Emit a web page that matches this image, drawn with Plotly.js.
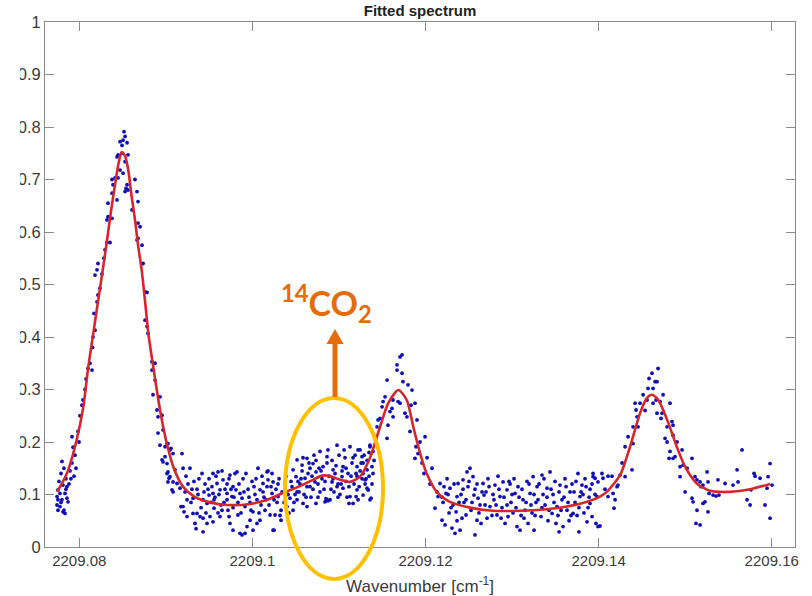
<!DOCTYPE html>
<html>
<head>
<meta charset="utf-8">
<script src="https://cdn.plot.ly/plotly-3.0.1.min.js"></script>
<style>
  html, body { margin: 0; padding: 0; background: #ffffff; }
  #chart { width: 812px; height: 596px; }
</style>
</head>
<body>
<div id="chart"></div>
<script>
// ---- Data ----
// Fitted model curve (wavenumber in cm^-1, signal in arbitrary units)
const fitWavenumber = [2209.07743, 2209.07758, 2209.07812, 2209.07873, 2209.07970, 2209.08047, 2209.08104, 2209.08162, 2209.08205, 2209.08251,
  2209.08317, 2209.08367, 2209.08413, 2209.08453, 2209.08490, 2209.08528, 2209.08566, 2209.08603, 2209.08644, 2209.08679,
  2209.08721, 2209.08759, 2209.08798, 2209.08855, 2209.08933, 2209.09010, 2209.09086, 2209.09198, 2209.09337, 2209.09510,
  2209.09707, 2209.09973, 2209.10169, 2209.10354, 2209.10550, 2209.10689, 2209.10804, 2209.10897, 2209.11012, 2209.11128,
  2209.11244, 2209.11359, 2209.11475, 2209.11570, 2209.11686, 2209.11783, 2209.11859, 2209.11937, 2209.12014, 2209.12130,
  2209.12283, 2209.12514, 2209.12780, 2209.13092, 2209.13404, 2209.13635, 2209.13866, 2209.14016, 2209.14094, 2209.14248,
  2209.14363, 2209.14479, 2209.14556, 2209.14614, 2209.14675, 2209.14710, 2209.14806, 2209.14903, 2209.14999, 2209.15134,
  2209.15287, 2209.15518, 2209.15750, 2209.15981];
const fitSignal = [0.105, 0.109, 0.125, 0.147, 0.204, 0.267, 0.343, 0.407, 0.455, 0.505,
  0.580, 0.640, 0.690, 0.730, 0.752, 0.745, 0.718, 0.670, 0.623, 0.575,
  0.528, 0.470, 0.407, 0.343, 0.261, 0.198, 0.153, 0.115, 0.095, 0.085,
  0.080, 0.082, 0.090, 0.103, 0.116, 0.127, 0.136, 0.135, 0.128, 0.124,
  0.134, 0.170, 0.229, 0.274, 0.299, 0.280, 0.229, 0.179, 0.140, 0.105,
  0.086, 0.075, 0.069, 0.069, 0.072, 0.077, 0.086, 0.096, 0.105, 0.137,
  0.191, 0.255, 0.283, 0.290, 0.283, 0.274, 0.236, 0.191, 0.153, 0.121,
  0.107, 0.105, 0.110, 0.120];

// Measured points [wavenumber, signal]
const measuredPoints = [
  [2209.07743,0.096],[2209.07743,0.080],[2209.07754,0.090],[2209.07754,0.109],[2209.07777,0.102],[2209.07777,0.077],[2209.07800,0.090],[2209.07800,0.163],[2209.07812,0.067],[2209.07812,0.118],
  [2209.07835,0.064],[2209.07835,0.102],[2209.07858,0.093],[2209.07858,0.115],[2209.07870,0.086],[2209.07789,0.140],[2209.07823,0.150],[2209.07846,0.130],[2209.07893,0.145],[2209.07916,0.160],
  [2209.07939,0.135],[2209.07962,0.150],[2209.07916,0.210],[2209.07928,0.190],[2209.07951,0.175],[2209.07985,0.220],[2209.08008,0.250],[2209.07997,0.200],[2209.08031,0.270],[2209.08043,0.280],
  [2209.08066,0.300],[2209.08078,0.320],[2209.08101,0.340],[2209.08124,0.350],[2209.08147,0.337],[2209.08153,0.380],[2209.08159,0.400],[2209.08182,0.413],[2209.08170,0.445],[2209.08205,0.467],
  [2209.08216,0.480],[2209.08239,0.493],[2209.08182,0.518],[2209.08205,0.528],[2209.08216,0.540],[2209.08262,0.520],[2209.08285,0.550],[2209.08297,0.566],[2209.08320,0.580],[2209.08355,0.580],
  [2209.08320,0.623],[2209.08332,0.629],[2209.08378,0.626],[2209.08332,0.655],[2209.08436,0.661],[2209.08378,0.674],[2209.08390,0.690],[2209.08378,0.700],[2209.08413,0.703],[2209.08448,0.703],
  [2209.08471,0.718],[2209.08506,0.712],[2209.08552,0.690],[2209.08563,0.680],[2209.08494,0.750],[2209.08471,0.772],[2209.08506,0.775],[2209.08529,0.782],[2209.08517,0.791],[2209.08494,0.765],
  [2209.08552,0.770],[2209.08563,0.747],[2209.08448,0.747],[2209.08436,0.743],[2209.08529,0.734],[2209.08540,0.683],[2209.08529,0.677],[2209.08644,0.700],[2209.08667,0.677],[2209.08679,0.658],
  [2209.08609,0.642],[2209.08679,0.617],[2209.08702,0.610],[2209.08679,0.588],[2209.08667,0.585],[2209.08725,0.575],[2209.08737,0.540],[2209.08760,0.486],[2209.08783,0.485],[2209.08760,0.432],
  [2209.08783,0.420],[2209.08794,0.407],[2209.08840,0.353],[2209.08875,0.350],[2209.08840,0.337],[2209.08875,0.318],[2209.08852,0.290],[2209.08933,0.286],[2209.08898,0.261],[2209.08910,0.248],
  [2209.08956,0.251],[2209.08968,0.223],[2209.08933,0.194],[2209.08991,0.191],[2209.09025,0.197],[2209.08956,0.166],[2209.09014,0.159],[2209.09048,0.185],[2209.09014,0.140],[2209.09048,0.134],
  [2209.09025,0.124],[2209.09083,0.124],[2209.09083,0.105],
  [2209.07766,0.125],[2209.07789,0.085],[2209.07823,0.070],[2209.07846,0.110],[2209.07881,0.120],[2209.07904,0.130],[2209.07754,0.070],
  [2209.08910,0.217],[2209.09014,0.197],[2209.09060,0.188],[2209.08991,0.172],[2209.09083,0.178],[2209.09187,0.178],[2209.08968,0.162],[2209.09025,0.143],[2209.09106,0.147],[2209.09199,0.150],
  [2209.09279,0.150],[2209.09037,0.131],[2209.09129,0.121],[2209.09164,0.112],[2209.09222,0.105],[2209.09071,0.109],[2209.09199,0.077],[2209.09245,0.090],[2209.09314,0.093],[2209.09360,0.064],
  [2209.09430,0.055],[2209.09337,0.045],[2209.09430,0.029],[2209.09510,0.058],[2209.09545,0.140],[2209.09603,0.143],[2209.09591,0.121],[2209.09661,0.128],[2209.09741,0.137],[2209.09822,0.143],
  [2209.09626,0.109],[2209.09707,0.102],[2209.09499,0.099],[2209.09476,0.083],[2209.09557,0.074],[2209.09649,0.070],[2209.09764,0.096],[2209.09810,0.109],[2209.09880,0.093],[2209.09915,0.077],
  [2209.09730,0.058],[2209.09833,0.061],[2209.09973,0.051],[2209.09880,0.023],[2209.09915,0.026],[2209.09938,0.039],[2209.10007,0.067],[2209.10053,0.090],[2209.10088,0.109],[2209.10123,0.121],
  [2209.10065,0.150],[2209.10169,0.143],[2209.10181,0.128],[2209.10239,0.124],[2209.10227,0.102],[2209.10296,0.096],[2209.10146,0.070],[2209.10204,0.061],[2209.10262,0.061],[2209.10331,0.051],
  [2209.10250,0.032],[2209.10400,0.077],[2209.10435,0.093],[2209.10377,0.121],[2209.10470,0.147],
  [2209.09175,0.077],[2209.09210,0.067],[2209.09245,0.058],[2209.09314,0.064],[2209.09395,0.058],[2209.09476,0.045],[2209.09545,0.048],[2209.09626,0.058],[2209.09741,0.045],[2209.09776,0.032],
  [2209.09857,0.026],[2209.09430,0.090],[2209.09545,0.102],[2209.09707,0.090],[2209.09857,0.102],[2209.09776,0.115],
  [2209.09256,0.120],[2209.09302,0.110],[2209.09372,0.100],[2209.09383,0.130],[2209.09453,0.120],[2209.09487,0.110],[2209.09522,0.085],[2209.09568,0.095],[2209.09603,0.065],[2209.09672,0.085],
  [2209.09707,0.120],[2209.09776,0.075],[2209.09833,0.085],[2209.09892,0.130],[2209.09950,0.110],[2209.09973,0.085],[2209.09996,0.125],[2209.10030,0.100],[2209.10053,0.045],[2209.10100,0.080],
  [2209.10111,0.135],[2209.10134,0.095],[2209.10169,0.115],[2209.10192,0.080],[2209.10227,0.140],[2209.10273,0.110],[2209.10285,0.085],[2209.10308,0.130],[2209.10331,0.070],[2209.10343,0.105],
  [2209.10412,0.100],[2209.10423,0.065],[2209.10458,0.115],[2209.10481,0.085],[2209.10516,0.105],[2209.10527,0.125],[2209.09349,0.035],[2209.10007,0.032],[2209.10088,0.051],[2209.10239,0.032],
  [2209.09233,0.135],[2209.09291,0.085],[2209.09325,0.125],[2209.09360,0.110],[2209.09407,0.075],[2209.09418,0.140],[2209.09441,0.105],[2209.09464,0.065],[2209.09499,0.130],[2209.09533,0.115],
  [2209.09557,0.090],[2209.09580,0.135],[2209.09614,0.100],[2209.09637,0.080],[2209.09649,0.145],[2209.09684,0.110],[2209.09718,0.070],[2209.09730,0.130],[2209.09753,0.110],[2209.09787,0.095],
  [2209.09799,0.140],[2209.09845,0.120],[2209.09868,0.065],[2209.09903,0.105],[2209.09926,0.140],[2209.09961,0.095],[2209.09984,0.070],[2209.10019,0.115],[2209.10042,0.130],[2209.10077,0.065],
  [2209.10123,0.105],[2209.10157,0.090],[2209.10181,0.145],[2209.10215,0.115],[2209.10250,0.090],[2209.10296,0.120],[2209.10319,0.060],[2209.10366,0.085],[2209.10389,0.135],[2209.10446,0.125],
  [2209.10470,0.070],[2209.10493,0.100],
  [2209.10516,0.166],[2209.10574,0.156],[2209.10631,0.169],[2209.10700,0.159],[2209.10781,0.182],[2209.10862,0.172],[2209.10978,0.194],[2209.11128,0.191],[2209.11221,0.185],[2209.11359,0.194],
  [2209.10504,0.134],[2209.10608,0.131],[2209.10666,0.115],[2209.10723,0.124],[2209.10781,0.105],[2209.10862,0.090],[2209.10897,0.090],[2209.10978,0.115],[2209.11047,0.112],[2209.11128,0.096],
  [2209.11209,0.109],[2209.11279,0.099],[2209.11359,0.090],[2209.11337,0.109],[2209.11163,0.083],[2209.10631,0.077],[2209.10516,0.090],[2209.10816,0.153],[2209.10932,0.147],[2209.11047,0.153],
  [2209.11209,0.153],[2209.11325,0.147],[2209.11036,0.134],[2209.10920,0.124],[2209.10735,0.143],[2209.10585,0.083],[2209.10735,0.083],[2209.10850,0.092],[2209.10873,0.088],[2209.10839,0.086],
  [2209.11116,0.083],[2209.11198,0.096],
  [2209.10550,0.120],[2209.10574,0.145],[2209.10597,0.100],[2209.10643,0.140],[2209.10654,0.160],[2209.10677,0.095],[2209.10689,0.135],[2209.10712,0.175],[2209.10758,0.120],[2209.10770,0.150],
  [2209.10804,0.130],[2209.10827,0.110],[2209.10862,0.160],[2209.10885,0.135],[2209.10920,0.165],[2209.10943,0.105],[2209.10955,0.140],[2209.10989,0.120],[2209.11001,0.175],[2209.11012,0.100],
  [2209.11036,0.145],[2209.11070,0.170],[2209.11082,0.125],[2209.11093,0.095],[2209.11105,0.140],[2209.11151,0.160],[2209.11175,0.120],[2209.11186,0.175],[2209.11209,0.135],[2209.11233,0.115],
  [2209.11256,0.160],[2209.11267,0.130],[2209.11291,0.175],[2209.11302,0.120],[2209.11325,0.165],[2209.11348,0.135],[2209.11382,0.120],[2209.11406,0.165],[2209.10539,0.105],[2209.10631,0.115],
  [2209.10562,0.130],[2209.10585,0.170],[2209.10620,0.095],[2209.10666,0.150],[2209.10700,0.110],[2209.10735,0.165],[2209.10758,0.095],[2209.10793,0.145],[2209.10839,0.125],[2209.10873,0.185],
  [2209.10908,0.110],[2209.10932,0.130],[2209.10966,0.155],[2209.10989,0.095],[2209.11024,0.120],[2209.11059,0.185],[2209.11082,0.150],[2209.11116,0.115],[2209.11140,0.135],[2209.11163,0.170],
  [2209.11198,0.140],[2209.11221,0.090],[2209.11244,0.145],[2209.11279,0.160],[2209.11314,0.130],[2209.11348,0.180],
  [2209.11244,0.185],[2209.11267,0.172],[2209.11279,0.140],[2209.11302,0.128],[2209.11325,0.112],[2209.11337,0.109],[2209.11371,0.093],[2209.11359,0.191],[2209.11382,0.153],[2209.11394,0.140],
  [2209.11394,0.182],[2209.11417,0.210],[2209.11440,0.229],[2209.11452,0.242],[2209.11475,0.245],[2209.11498,0.267],[2209.11510,0.277],[2209.11533,0.286],[2209.11556,0.207],[2209.11567,0.232],
  [2209.11556,0.318],[2209.11590,0.258],[2209.11613,0.264],[2209.11625,0.248],[2209.11625,0.280],[2209.11671,0.337],[2209.11671,0.347],[2209.11706,0.362],[2209.11729,0.366],[2209.11729,0.331],
  [2209.11683,0.277],[2209.11706,0.274],[2209.11740,0.315],[2209.11798,0.309],[2209.11844,0.299],[2209.11763,0.255],[2209.11786,0.248],[2209.11879,0.274],[2209.11902,0.242],[2209.11995,0.210],
  [2209.11890,0.191],[2209.11913,0.178],[2209.11879,0.169],[2209.11983,0.140],[2209.12133,0.105],[2209.12168,0.121],[2209.12145,0.096],[2209.12110,0.074],[2209.12191,0.051],[2209.12226,0.042],
  [2209.12306,0.036],[2209.12341,0.026],[2209.12399,0.032],[2209.12237,0.102],[2209.12283,0.112],[2209.12364,0.096],[2209.12376,0.121],[2209.12434,0.128],[2209.12480,0.143],[2209.12514,0.150],
  [2209.12549,0.134],[2209.12491,0.115],[2209.12560,0.099],[2209.12607,0.093],[2209.12353,0.067],[2209.12468,0.061],[2209.12595,0.051],[2209.12572,0.023],[2209.12665,0.121],[2209.12676,0.099],
  [2209.12745,0.077],[2209.12803,0.118],[2209.12826,0.061],[2209.12861,0.096],[2209.12896,0.124],[2209.12942,0.109],[2209.12954,0.058],[2209.13034,0.102],[2209.13057,0.039],[2209.13127,0.090],
  [2209.13150,0.070],[2209.13208,0.102],[2209.13243,0.134],[2209.13289,0.115],[2209.13346,0.137],[2209.13404,0.112],[2209.13335,0.058],[2209.13439,0.143],[2209.13462,0.064],[2209.13520,0.077],
  [2209.13554,0.118],[2209.13589,0.039],[2209.13670,0.105],[2209.13705,0.064],[2209.13762,0.140],[2209.13808,0.118],[2209.13785,0.096],[2209.13866,0.048],[2209.13936,0.134],[2209.13982,0.096],
  [2209.13993,0.039],[2209.13254,0.032],[2209.13092,0.032],[2209.13543,0.029],[2209.13773,0.029],
  [2209.12203,0.085],[2209.12249,0.130],[2209.12272,0.065],[2209.12318,0.080],[2209.12411,0.100],[2209.12422,0.055],[2209.12445,0.085],[2209.12526,0.070],[2209.12595,0.120],[2209.12630,0.080],
  [2209.12642,0.045],[2209.12699,0.105],[2209.12722,0.130],[2209.12768,0.060],[2209.12791,0.090],[2209.12838,0.135],[2209.12884,0.075],[2209.12919,0.045],[2209.12965,0.125],[2209.12988,0.085],
  [2209.13011,0.065],[2209.13069,0.115],[2209.13104,0.060],[2209.13173,0.125],[2209.13185,0.045],[2209.13219,0.080],[2209.13266,0.060],[2209.13300,0.090],[2209.13358,0.100],[2209.13381,0.080],
  [2209.13416,0.050],[2209.13474,0.100],[2209.13497,0.125],[2209.13531,0.060],[2209.13577,0.090],[2209.13612,0.130],[2209.13635,0.070],[2209.13658,0.050],[2209.13693,0.120],[2209.13728,0.085],
  [2209.13751,0.060],[2209.13820,0.100],[2209.13843,0.130],[2209.13878,0.075],[2209.13901,0.110],[2209.12018,0.170],[2209.12052,0.120],[2209.12075,0.150],[2209.11937,0.200],[2209.11960,0.160],
  [2209.11833,0.270],[2209.11821,0.220],
  [2209.12191,0.095],[2209.12214,0.115],[2209.12260,0.100],[2209.12295,0.075],[2209.12330,0.120],[2209.12364,0.050],[2209.12388,0.085],[2209.12434,0.110],[2209.12468,0.090],[2209.12503,0.125],
  [2209.12537,0.085],[2209.12572,0.110],[2209.12618,0.065],[2209.12653,0.105],[2209.12688,0.080],[2209.12711,0.055],[2209.12734,0.115],[2209.12780,0.100],[2209.12815,0.080],[2209.12849,0.110],
  [2209.12873,0.055],[2209.12907,0.095],[2209.12942,0.080],[2209.12977,0.120],[2209.13000,0.100],[2209.13023,0.130],[2209.13046,0.075],[2209.13081,0.095],[2209.13115,0.110],[2209.13138,0.055],
  [2209.13162,0.085],[2209.13196,0.120],[2209.13231,0.065],[2209.13254,0.100],[2209.13277,0.085],[2209.13312,0.120],[2209.13346,0.075],[2209.13369,0.130],[2209.13404,0.095],[2209.13427,0.070],
  [2209.13450,0.110],[2209.13485,0.085],[2209.13508,0.045],[2209.13543,0.105],[2209.13566,0.070],[2209.13600,0.095],[2209.13624,0.115],[2209.13647,0.085],[2209.13681,0.060],[2209.13716,0.105],
  [2209.13739,0.125],[2209.13773,0.075],[2209.13797,0.105],[2209.13831,0.065],[2209.13855,0.115],[2209.13890,0.095],[2209.13924,0.120],[2209.13959,0.100],
  [2209.13924,0.058],[2209.13970,0.045],[2209.14016,0.040],[2209.13901,0.083],[2209.13936,0.140],[2209.13959,0.131],[2209.13993,0.124],[2209.14039,0.140],[2209.14051,0.131],[2209.14109,0.135],
  [2209.14155,0.135],[2209.14109,0.096],[2209.14167,0.102],[2209.14213,0.115],[2209.14224,0.118],[2209.14190,0.090],[2209.14178,0.074],[2209.14248,0.137],[2209.14306,0.134],[2209.14306,0.191],
  [2209.14386,0.147],[2209.14398,0.197],[2209.14398,0.229],[2209.14456,0.229],[2209.14444,0.248],[2209.14433,0.261],[2209.14421,0.274],[2209.14479,0.274],[2209.14560,0.280],[2209.14571,0.302],
  [2209.14583,0.321],[2209.14617,0.331],[2209.14652,0.315],[2209.14675,0.315],[2209.14687,0.340],[2209.14629,0.302],[2209.14629,0.274],[2209.14664,0.280],[2209.14710,0.277],[2209.14745,0.290],
  [2209.14825,0.274],[2209.14675,0.255],[2209.14721,0.245],[2209.14791,0.229],[2209.14848,0.239],[2209.14860,0.232],[2209.14860,0.213],[2209.14768,0.207],[2209.14791,0.200],[2209.14825,0.182],
  [2209.14814,0.169],[2209.14860,0.169],[2209.14883,0.172],[2209.14964,0.185],[2209.14941,0.153],[2209.14976,0.156],[2209.15022,0.150],[2209.14941,0.134],[2209.15079,0.169],[2209.15114,0.134],
  [2209.15137,0.128],[2209.15172,0.124],[2209.15183,0.115],[2209.15206,0.118],[2209.15253,0.143],[2209.15264,0.124],[2209.14999,0.105],[2209.15079,0.093],[2209.15091,0.086],[2209.15137,0.070],
  [2209.15125,0.045],[2209.15172,0.042],[2209.15206,0.083],[2209.15229,0.086],[2209.15264,0.067],[2209.15276,0.102],[2209.15322,0.099],[2209.15356,0.097],[2209.15391,0.099],[2209.15379,0.128],
  [2209.15461,0.121],[2209.15553,0.118],[2209.15600,0.147],[2209.15611,0.124],[2209.15657,0.185],[2209.15715,0.090],[2209.15750,0.080],[2209.15761,0.109],[2209.15796,0.140],[2209.15808,0.135],
  [2209.15865,0.131],[2209.15923,0.080],[2209.15958,0.134],[2209.15981,0.159],[2209.15946,0.112],[2209.15981,0.055],[2209.16004,0.118],
  [2209.14074,0.110],[2209.14271,0.160],[2209.14340,0.210],[2209.14514,0.290],[2209.14537,0.260],[2209.14733,0.255],[2209.14906,0.200]
];

const xTickValues = [2209.08, 2209.10, 2209.12, 2209.14, 2209.16];
const xTickLabels = ['2209.08', '2209.1', '2209.12', '2209.14', '2209.16'];
const yTickValues = [0, 0.1, 0.2, 0.3, 0.4, 0.5, 0.6, 0.7, 0.8, 0.9, 1];
const yTickLabels = ['0', '0.1', '0.2', '0.3', '0.4', '0.5', '0.6', '0.7', '0.8', '0.9', '1'];

const measuredX = measuredPoints.map(p => p[0]);
const measuredY = measuredPoints.map(p => p[1]);

const FONT = 'Liberation Sans, Arial, Helvetica, sans-serif';
const AXIS_GREY = '#8a8a8a';
const ORANGE = '#E46C0A';

const traces = [
  {
    type: 'scatter', mode: 'markers', x: measuredX, y: measuredY,
    marker: { size: 3.8, color: '#0f0fb4' }, hoverinfo: 'x+y', showlegend: false
  },
  {
    type: 'scatter', mode: 'lines', x: fitWavenumber, y: fitSignal,
    line: { color: '#d4262b', width: 2.6, shape: 'spline', smoothing: 0.7 }, showlegend: false
  }
];

const axisCommon = {
  showgrid: false, zeroline: false, showline: true, linecolor: AXIS_GREY, linewidth: 1,
  mirror: 'ticks', ticks: 'inside', ticklen: 9, tickcolor: AXIS_GREY, tickwidth: 1,
  tickfont: { family: FONT, size: 15, color: '#3a3a3a' }
};

const layout = {
  width: 812, height: 596,
  margin: { l: 45, r: 17, t: 22, b: 49 },
  paper_bgcolor: '#ffffff', plot_bgcolor: '#ffffff',
  title: {
    text: '<b>Fitted spectrum</b>', font: { family: FONT, size: 15, color: '#222222' },
    x: 0.5, xref: 'paper', y: 1 - 11 / 596, yref: 'container', yanchor: 'middle'
  },
  xaxis: Object.assign({}, axisCommon, {
    range: [2209.07604, 2209.16269], tickmode: 'array', tickvals: xTickValues, ticktext: xTickLabels,
    title: { text: 'Wavenumber [cm<sup>-1</sup>]', font: { family: FONT, size: 17, color: '#3a3a3a' }, standoff: 14 }
  }),
  yaxis: Object.assign({}, axisCommon, {
    range: [0, 1], tickmode: 'array', tickvals: yTickValues, ticktext: yTickLabels,
    tickfont: { family: FONT, size: 16.5, color: '#3a3a3a' }
  }),
  shapes: [
    { type: 'rect', xref: 'paper', yref: 'paper', x0: -0.1, x1: -0.0333, y0: -0.2, y1: 1.1,
      fillcolor: '#ffffff', line: { width: 0 }, layer: 'above' },
    { type: 'circle', xref: 'paper', yref: 'paper', x0: 0.32, x1: 0.4507, y0: -0.061, y1: 0.2838,
      line: { color: '#FFC000', width: 4 }, layer: 'above' },
    { type: 'line', xref: 'paper', yref: 'paper', x0: 0.3867, x1: 0.3867, y0: 0.2857, y1: 0.392,
      line: { color: ORANGE, width: 5 }, layer: 'above' },
    { type: 'path', xref: 'paper', yref: 'paper',
      path: 'M 0.3753 0.3867 L 0.3981 0.3867 L 0.3867 0.4152 Z',
      fillcolor: ORANGE, line: { width: 0 }, layer: 'above' }
  ],
  annotations: [
    { xref: 'paper', yref: 'paper', x: 0.3747, y: 0.463, showarrow: false,
      text: '<b><sup>14</sup>CO<sub>2</sub></b>', font: { family: 'Lato, Open Sans, sans-serif', size: 34, color: ORANGE },
      xanchor: 'center', yanchor: 'middle' }
  ]
};

Plotly.newPlot('chart', traces, layout, { displayModeBar: false, staticPlot: true });
</script>
</body>
</html>
